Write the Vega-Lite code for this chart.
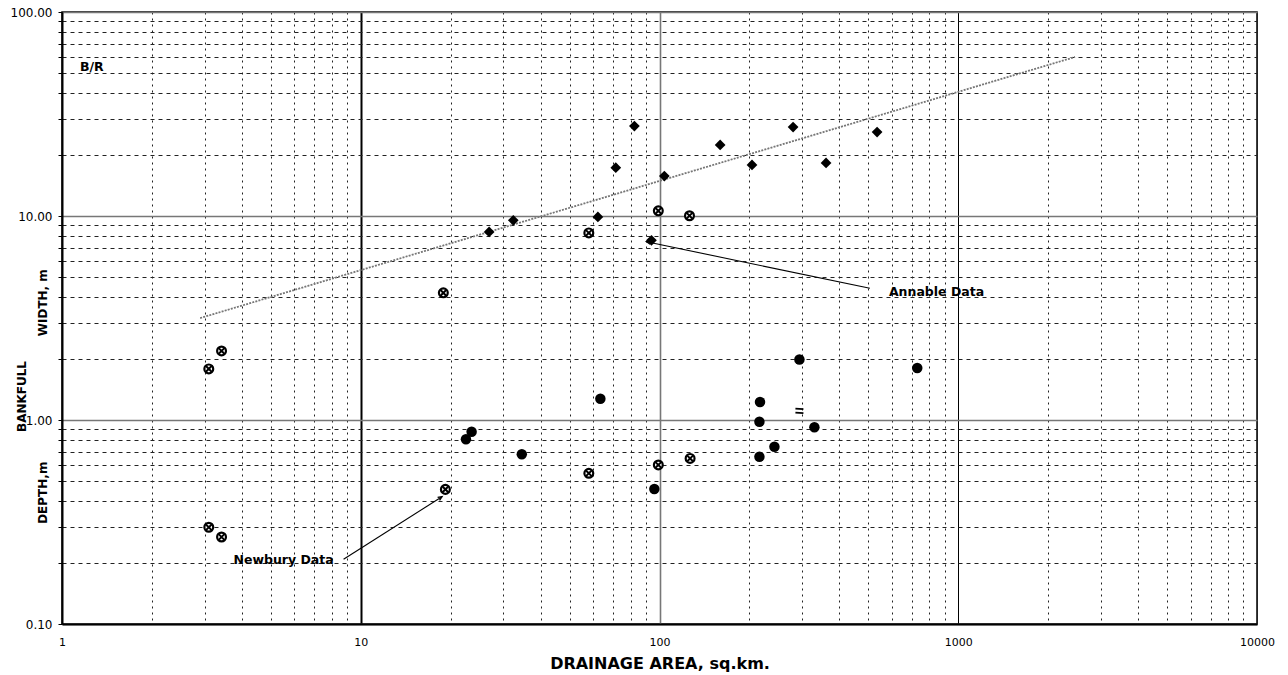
{
  "$schema": "https://vega.github.io/schema/vega-lite/v6.json",
  "width": 1195,
  "height": 612,
  "autosize": {"type": "none"},
  "padding": {"left": 62, "top": 12, "right": 31, "bottom": 51},
  "background": "white",
  "config": {"view": {"stroke": "#000", "strokeWidth": 1.5}},
  "datasets": {
    "points": [
      {"area": 26.9, "value": 8.35, "series": "Annable width"},
      {"area": 32.4, "value": 9.53, "series": "Annable width"},
      {"area": 62.2, "value": 9.9, "series": "Annable width"},
      {"area": 71.4, "value": 17.25, "series": "Annable width"},
      {"area": 82.4, "value": 27.6, "series": "Annable width"},
      {"area": 103.8, "value": 15.7, "series": "Annable width"},
      {"area": 94, "value": 7.6, "series": "Annable width"},
      {"area": 159.6, "value": 22.3, "series": "Annable width"},
      {"area": 204, "value": 17.8, "series": "Annable width"},
      {"area": 280, "value": 27.3, "series": "Annable width"},
      {"area": 361, "value": 18.2, "series": "Annable width"},
      {"area": 535, "value": 25.8, "series": "Annable width"},
      {"area": 23.5, "value": 0.876, "series": "Annable depth"},
      {"area": 22.5, "value": 0.804, "series": "Annable depth"},
      {"area": 34.6, "value": 0.679, "series": "Annable depth"},
      {"area": 63.4, "value": 1.27, "series": "Annable depth"},
      {"area": 96.1, "value": 0.459, "series": "Annable depth"},
      {"area": 217, "value": 1.225, "series": "Annable depth"},
      {"area": 216, "value": 0.981, "series": "Annable depth"},
      {"area": 216, "value": 0.661, "series": "Annable depth"},
      {"area": 242.5, "value": 0.74, "series": "Annable depth"},
      {"area": 294, "value": 1.98, "series": "Annable depth"},
      {"area": 330, "value": 0.921, "series": "Annable depth"},
      {"area": 729, "value": 1.8, "series": "Annable depth"},
      {"area": 294, "value": 1.11, "series": "Annable depth partial"},
      {"area": 3.1, "value": 1.78, "series": "Newbury"},
      {"area": 3.42, "value": 2.18, "series": "Newbury"},
      {"area": 3.1, "value": 0.298, "series": "Newbury"},
      {"area": 3.42, "value": 0.267, "series": "Newbury"},
      {"area": 18.9, "value": 4.2, "series": "Newbury"},
      {"area": 19.2, "value": 0.457, "series": "Newbury"},
      {"area": 58.0, "value": 8.26, "series": "Newbury"},
      {"area": 58.0, "value": 0.548, "series": "Newbury"},
      {"area": 99.1, "value": 10.6, "series": "Newbury"},
      {"area": 99.1, "value": 0.602, "series": "Newbury"},
      {"area": 126, "value": 10.03, "series": "Newbury"},
      {"area": 126.6, "value": 0.648, "series": "Newbury"}
    ],
    "trend": [
      {"area": 2.9, "value": 3.16},
      {"area": 2460, "value": 60.2}
    ],
    "arrows": [
      {"label": "Annable", "area": 90.5, "value": 7.48, "area2": 506, "value2": 4.42},
      {"label": "Newbury", "area": 18.7, "value": 0.4207, "area2": 8.76, "value2": 0.2075}
    ],
    "labels": [
      {"text": "B/R", "area": 1.149, "value": 53.8},
      {"text": "Annable Data", "area": 586, "value": 4.26},
      {"text": "Newbury Data", "area": 3.75, "value": 0.207}
    ]
  },
  "encoding": {
    "x": {
      "field": "area",
      "type": "quantitative",
      "scale": {"type": "log", "domain": [1, 10000], "nice": false},
      "axis": {
        "values": [1,2,3,4,5,6,7,8,9,10,20,30,40,50,60,70,80,90,100,200,300,400,500,600,700,800,900,1000,2000,3000,4000,5000,6000,7000,8000,9000,10000],
        "title": "DRAINAGE AREA, sq.km.",
        "titleFont": "DejaVu Sans",
        "titleFontSize": 16,
        "titleFontWeight": "bold",
        "titleColor": "#000",
        "titlePadding": 8,
        "labelExpr": "abs(log(datum.value)/LN10 - round(log(datum.value)/LN10)) < 0.001 ? format(datum.value, 'd') : ''",
        "labelFont": "DejaVu Sans",
        "labelFontSize": 11,
        "labelColor": "#000",
        "labelPadding": 12,
        "labelOverlap": false,
        "labelFlush": false,
        "labelBound": false,
        "ticks": false,
        "domainColor": "#000",
        "domainWidth": 2,
        "grid": true,
        "gridOpacity": 1,
        "gridColor": {
          "condition": [
            {"test": "datum.value == 10", "value": "#000"},
            {"test": "datum.value == 100", "value": "#777"},
            {"test": "datum.value == 1000", "value": "#000"}
          ],
          "value": "#222"
        },
        "gridDash": {
          "condition": {"test": "abs(log(datum.value)/LN10 - round(log(datum.value)/LN10)) < 0.001", "value": []},
          "value": [2, 4]
        },
        "gridWidth": {
          "condition": [
            {"test": "datum.value == 10", "value": 2},
            {"test": "datum.value == 100", "value": 1.6}
          ],
          "value": 1
        }
      }
    },
    "y": {
      "field": "value",
      "type": "quantitative",
      "scale": {"type": "log", "domain": [0.1, 100], "nice": false},
      "axis": {
        "values": [0.1,0.2,0.3,0.4,0.5,0.6,0.7,0.8,0.9,1,2,3,4,5,6,7,8,9,10,20,30,40,50,60,70,80,90,100],
        "title": ["BANKFULL", "DEPTH,m\u00a0\u00a0\u00a0\u00a0\u00a0\u00a0\u00a0\u00a0\u00a0\u00a0\u00a0\u00a0\u00a0\u00a0\u00a0\u00a0\u00a0\u00a0\u00a0\u00a0\u00a0\u00a0\u00a0\u00a0\u00a0\u00a0\u00a0\u00a0\u00a0\u00a0WIDTH, m"],
        "titleFont": "DejaVu Sans",
        "titleFontSize": 12,
        "titleFontWeight": "bold",
        "titleColor": "#000",
        "titleAngle": 270,
        "titleAlign": "center",
        "titleBaseline": "alphabetic",
        "titleLineHeight": 21,
        "titleX": -37,
        "titleY": 384,
        "labelExpr": "abs(log(datum.value)/LN10 - round(log(datum.value)/LN10)) < 0.001 ? format(datum.value, '.2f') : ''",
        "labelFont": "DejaVu Sans",
        "labelFontSize": 12,
        "labelColor": "#000",
        "labelPadding": 6,
        "labelOverlap": false,
        "labelFlush": false,
        "labelBound": false,
        "ticks": true,
        "tickSize": 4,
        "tickColor": "#000",
        "tickWidth": 1,
        "domainColor": "#000",
        "domainWidth": 2,
        "grid": true,
        "gridOpacity": 1,
        "gridColor": {
          "condition": {"test": "abs(log(datum.value)/LN10 - round(log(datum.value)/LN10)) < 0.001", "value": "#777"},
          "value": "#222"
        },
        "gridDash": {
          "condition": {"test": "abs(log(datum.value)/LN10 - round(log(datum.value)/LN10)) < 0.001", "value": []},
          "value": [4, 4]
        },
        "gridWidth": {
          "condition": {"test": "abs(log(datum.value)/LN10 - round(log(datum.value)/LN10)) < 0.001", "value": 1.6},
          "value": 1
        }
      }
    }
  },
  "layer": [
    {
      "data": {"name": "trend"},
      "mark": {"type": "line", "color": "#777", "strokeWidth": 1.8, "strokeDash": [2, 1.2]}
    },
    {
      "data": {"name": "arrows"},
      "mark": {"type": "rule", "color": "#000", "strokeWidth": 1.1},
      "encoding": {
        "x2": {"field": "area2"},
        "y2": {"field": "value2"}
      }
    },
    {
      "data": {"name": "arrows"},
      "transform": [{"filter": "datum.label == 'Annable'"}],
      "mark": {"type": "point", "shape": "M-0.8,1.8L0,0L0.8,1.8", "filled": false, "stroke": "#000", "strokeWidth": 1.4, "size": 20, "angle": 281.8, "opacity": 1}
    },
    {
      "data": {"name": "arrows"},
      "transform": [{"filter": "datum.label == 'Newbury'"}],
      "mark": {"type": "point", "shape": "M-0.8,1.8L0,0L0.8,1.8", "filled": false, "stroke": "#000", "strokeWidth": 1.4, "size": 20, "angle": 57.5, "opacity": 1}
    },
    {
      "data": {"name": "points"},
      "transform": [{"filter": "datum.series == 'Annable width'"}],
      "mark": {"type": "point", "shape": "diamond", "filled": true, "color": "#000", "size": 115, "opacity": 1}
    },
    {
      "data": {"name": "points"},
      "transform": [{"filter": "datum.series == 'Annable depth'"}],
      "mark": {"type": "point", "shape": "circle", "filled": true, "color": "#000", "size": 110, "opacity": 1}
    },
    {
      "data": {"name": "points"},
      "transform": [{"filter": "datum.series == 'Annable depth partial'"}],
      "mark": {"type": "point", "shape": "M-1,-0.55L1,-0.4M-1,0.45L1,0.6", "filled": false, "stroke": "#000", "strokeWidth": 1.8, "size": 64, "opacity": 1}
    },
    {
      "data": {"name": "points"},
      "transform": [{"filter": "datum.series == 'Newbury'"}],
      "mark": {"type": "point", "shape": "circle", "filled": true, "fill": "#fff", "stroke": "#000", "strokeWidth": 2.2, "size": 78, "opacity": 1}
    },
    {
      "data": {"name": "points"},
      "transform": [{"filter": "datum.series == 'Newbury'"}],
      "mark": {"type": "point", "shape": "M-0.7,-0.7L0.7,0.7M-0.7,0.7L0.7,-0.7", "filled": false, "stroke": "#000", "strokeWidth": 2, "size": 78, "opacity": 1}
    },
    {
      "data": {"name": "labels"},
      "mark": {"type": "text", "align": "left", "baseline": "middle", "font": "DejaVu Sans", "fontWeight": "bold", "fontSize": 12.5, "color": "#000"},
      "encoding": {"text": {"field": "text"}}
    }
  ]
}
